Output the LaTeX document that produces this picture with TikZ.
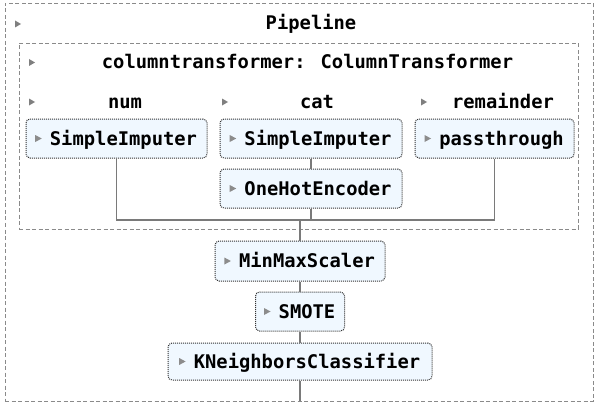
\documentclass[tikz,border=0pt]{standalone}
\usepackage{fontspec}
\newfontfamily\monofont{DejaVu Sans Mono}
\usetikzlibrary{calc}
\definecolor{boxfill}{HTML}{F0F8FF}
\definecolor{boxline}{HTML}{333333}
\definecolor{dashline}{HTML}{8A8A8A}
\definecolor{wire}{HTML}{7A7A7A}
\definecolor{hdrtri}{HTML}{7F7F7F}
\definecolor{boxtri}{HTML}{8C8C8C}
\newcommand{\mfont}{\monofont\bfseries\fontsize{18.8}{22}\selectfont}
% estimator box: name, x, y, width, height, text
\newcommand{\estbox}[6]{%
  \node[est, minimum width=#4pt, minimum height=#5pt] (#1) at (#2,#3) {};
  \node[etext] (#1-t) at ($(#1.center)+(7,0)$) {#6};
  \fill[boxtri] ($(#1-t.west)+(-14.5,-3.5)$) -- ++(6.5,3.5) -- ++(-6.5,3.5) -- cycle;
}
\begin{document}
\begin{tikzpicture}[x=1pt,y=-1pt,
  est/.style={draw=boxline, line width=1pt, dash pattern=on 1pt off 1pt,
    fill=boxfill, rounded corners=4pt, inner sep=0pt},
  etext/.style={font=\mfont, inner sep=0pt, text height=13.5pt, text depth=0pt},
  container/.style={draw=dashline, line width=0.9pt, dash pattern=on 4pt off 2.5pt,
    inner sep=0pt},
  lbl/.style={font=\mfont, inner sep=0pt, anchor=base},
  wireline/.style={draw=wire, line width=1.3pt},
  tri/.style={fill=hdrtri}]
\useasboundingbox (0,0) rectangle (601,409);
\fill[white] (0,0) rectangle (601,409);

% containers
\node[container, minimum width=588pt, minimum height=398pt] (pipe) at (299,202) {};
\node[container, minimum width=559pt, minimum height=186pt] (ct) at (298.5,136) {};

% header labels
\node[lbl] (tpipe) at (311,30) {Pipeline};
\node[lbl] (tct) at (307.5,68.5) {columntransformer: ColumnTransformer};
\node[lbl] (tnum) at (125,108.5) {num};
\node[lbl] (tcat) at (317,108.5) {cat};
\node[lbl] (trem) at (503,108.5) {remainder};

% header markers
\fill[tri] (15,20.5) -- (21,24) -- (15,27.5) -- cycle;
\fill[tri] (29,59) -- (35,62.5) -- (29,66) -- cycle;
\fill[tri] (29,98.5) -- (35,102) -- (29,105.5) -- cycle;
\fill[tri] (222,98.5) -- (228,102) -- (222,105.5) -- cycle;
\fill[tri] (421,98.5) -- (427,102) -- (421,105.5) -- cycle;

% estimator boxes
\estbox{numsi}{116.5}{138.5}{181}{39}{SimpleImputer}
\estbox{catsi}{311}{138.5}{182}{39}{SimpleImputer}
\estbox{pass}{494.5}{138.5}{159}{39}{passthrough}
\estbox{ohe}{311}{188.5}{182}{39}{OneHotEncoder}
\estbox{mms}{300}{261}{170}{40}{MinMaxScaler}
\estbox{smote}{300}{311.5}{89}{39}{SMOTE}
\estbox{knn}{300}{361.5}{264}{37}{KNeighborsClassifier}

\coordinate (join) at (300,220);

% connectors
\draw[wireline] (numsi.south) -- (numsi.south |- join) -- (pass.south |- join) -- (pass.south);
\draw[wireline] (catsi.south) -- (ohe.north);
\draw[wireline] (ohe.south) -- (ohe.south |- join);
\draw[wireline] (join) -- (mms.north);
\draw[wireline] (mms.south) -- (smote.north);
\draw[wireline] (smote.south) -- (knn.north);
\draw[wireline] (knn.south) -- (knn.south |- pipe.south);
\end{tikzpicture}
\end{document}
